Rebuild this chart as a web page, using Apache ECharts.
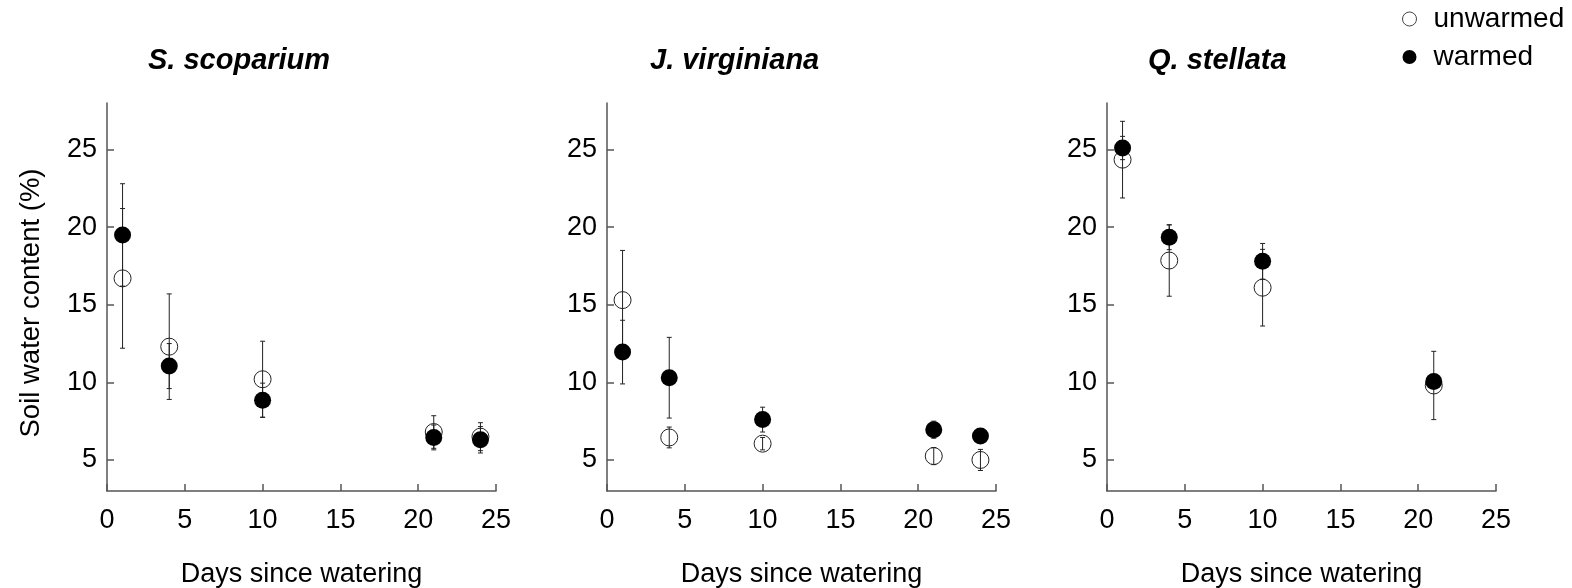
<!DOCTYPE html>
<html>
<head>
<meta charset="utf-8">
<script src="https://cdn.jsdelivr.net/npm/echarts@6/dist/echarts.min.js"></script>
<style>
    html, body { margin: 0; padding: 0; background: #fff; }
    #main { width: 1572px; height: 588px; }
</style>
</head>
<body>
<div id="main"></div>
<script>
// days since watering
var days = [1, 4, 10, 21, 24];
var daysQ = [1, 4, 10, 21];
var yTicks = [5, 10, 15, 20, 25];

// S. scoparium
var scopUnwarmed = [16.7, 12.3, 10.2, 6.8, 6.5];
var scopUnwarmedErr = [4.5, 3.4, 2.45, 1.05, 0.9];
var scopWarmed = [19.5, 11.05, 8.85, 6.45, 6.3];
var scopWarmedErr = [3.3, 1.45, 1.1, 0.8, 0.85];

// J. virginiana
var juniUnwarmed = [15.3, 6.45, 6.05, 5.25, 5.0];
var juniUnwarmedErr = [3.2, 0.67, 0.4, 0.55, 0.68];
var juniWarmed = [11.95, 10.3, 7.6, 6.95, 6.55];
var juniWarmedErr = [2.05, 2.6, 0.8, 0.55, 0.2];

// Q. stellata
var quercUnwarmed = [24.35, 17.85, 16.1, 9.8];
var quercUnwarmedErr = [2.47, 2.3, 2.47, 2.2];
var quercWarmed = [25.1, 19.35, 17.8, 10.05];
var quercWarmedErr = [0.75, 0.8, 1.15, 0.3];

var panels = [
    { title: 'S. scoparium', titleLeft: 148, x: days, unwarmed: scopUnwarmed, unwarmedErr: scopUnwarmedErr, warmed: scopWarmed, warmedErr: scopWarmedErr },
    { title: 'J. virginiana', titleLeft: 650, x: days, unwarmed: juniUnwarmed, unwarmedErr: juniUnwarmedErr, warmed: juniWarmed, warmedErr: juniWarmedErr },
    { title: 'Q. stellata', titleLeft: 1148, x: daysQ, unwarmed: quercUnwarmed, unwarmedErr: quercUnwarmedErr, warmed: quercWarmed, warmedErr: quercWarmedErr }
];
var gridLefts = [107, 607, 1107];

var FONT = '"Liberation Sans", Arial, sans-serif';
var AXIS_COLOR = '#555';

function points(xs, ys){
    return xs.map(function(x, i){ return [x, ys[i]]; });
}
function errRanges(xs, ys, errs){
    return xs.map(function(x, i){ return [x, ys[i] - errs[i], ys[i] + errs[i]]; });
}

function renderErrorBar(params, api){
    var x = api.value(0);
    var lo = api.coord([x, api.value(1)]);
    var hi = api.coord([x, api.value(2)]);
    var half = 2.5;
    var style = { stroke: '#222', lineWidth: 1 };
    return {
        type: 'group',
        children: [
            { type: 'line', shape: { x1: hi[0], y1: hi[1], x2: lo[0], y2: lo[1] }, style: style },
            { type: 'line', shape: { x1: hi[0] - half, y1: hi[1], x2: hi[0] + half, y2: hi[1] }, style: style },
            { type: 'line', shape: { x1: lo[0] - half, y1: lo[1], x2: lo[0] + half, y2: lo[1] }, style: style }
        ]
    };
}

var chart = echarts.init(document.getElementById('main'));

var grids = [], xAxes = [], yAxes = [], series = [], titles = [];
panels.forEach(function(p, i){
    grids.push({ left: gridLefts[i], top: 103, width: 389, height: 388, containLabel: false, outerBoundsMode: 'none' });
    titles.push({
        text: p.title, left: p.titleLeft, top: 46, padding: 0,
        textStyle: { fontFamily: FONT, fontSize: 29, fontWeight: 'bold', fontStyle: 'italic', color: '#000' }
    });
    xAxes.push({
        gridIndex: i, type: 'value', min: 0, max: 25, interval: 5,
        name: 'Days since watering', nameLocation: 'middle', nameGap: 70,
        nameTextStyle: { fontFamily: FONT, fontSize: 27, color: '#000' },
        axisLine: { lineStyle: { color: AXIS_COLOR, width: 1.5 } },
        axisTick: { inside: true, length: 7, lineStyle: { color: AXIS_COLOR, width: 1.5 } },
        axisLabel: { fontFamily: FONT, fontSize: 27, color: '#000', margin: 16 },
        splitLine: { show: false }
    });
    yAxes.push({
        gridIndex: i, type: 'value', min: 3, max: 28,
        name: i === 0 ? 'Soil water content (%)' : '', nameLocation: 'middle', nameGap: 62,
        nameTextStyle: { fontFamily: FONT, fontSize: 27.5, color: '#000', padding: [0, 12, 0, 0] },
        axisLine: { show: true, lineStyle: { color: AXIS_COLOR, width: 1.5 } },
        axisTick: { show: true, inside: true, length: 7, customValues: yTicks, lineStyle: { color: AXIS_COLOR, width: 1.5 } },
        axisLabel: { fontFamily: FONT, fontSize: 27, color: '#000', margin: 10, customValues: yTicks },
        splitLine: { show: false }
    });
    series.push({
        type: 'custom', xAxisIndex: i, yAxisIndex: i, z: 2, silent: true,
        renderItem: renderErrorBar, encode: { x: 0, y: [1, 2] },
        data: errRanges(p.x, p.unwarmed, p.unwarmedErr)
    });
    series.push({
        type: 'custom', xAxisIndex: i, yAxisIndex: i, z: 2, silent: true,
        renderItem: renderErrorBar, encode: { x: 0, y: [1, 2] },
        data: errRanges(p.x, p.warmed, p.warmedErr)
    });
    series.push({
        name: 'unwarmed', type: 'scatter', xAxisIndex: i, yAxisIndex: i, z: 3,
        symbol: 'circle', symbolSize: 17,
        itemStyle: { color: 'rgba(255,255,255,0)', borderColor: '#222', borderWidth: 1, opacity: 1 },
        data: points(p.x, p.unwarmed)
    });
    series.push({
        name: 'warmed', type: 'scatter', xAxisIndex: i, yAxisIndex: i, z: 4,
        symbol: 'circle', symbolSize: 17,
        itemStyle: { color: '#000', opacity: 1 },
        data: points(p.x, p.warmed)
    });
});

chart.setOption({
    backgroundColor: '#fff',
    animation: false,
    title: titles,
    legend: {
        orient: 'vertical', left: 1397, top: 0, itemGap: 10,
        itemWidth: 38, itemHeight: 14,
        textStyle: { fontFamily: FONT, fontSize: 28, color: '#000' },
        data: [
            { name: 'unwarmed', icon: 'circle', itemStyle: { color: '#fff', borderColor: '#444', borderWidth: 1, opacity: 1 } },
            { name: 'warmed', icon: 'circle', itemStyle: { color: '#000', opacity: 1 } }
        ]
    },
    grid: grids,
    xAxis: xAxes,
    yAxis: yAxes,
    series: series
});
</script>
</body>
</html>
